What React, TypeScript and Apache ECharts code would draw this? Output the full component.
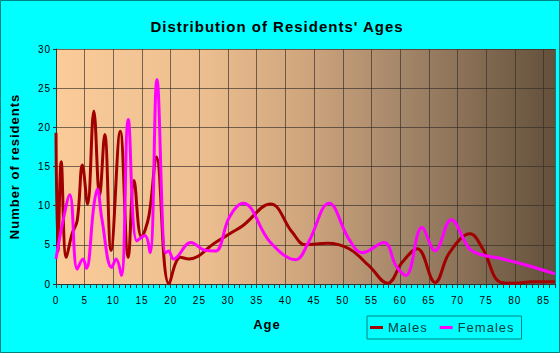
import React, { useEffect, useRef } from "react";
import * as echarts from "echarts";

const titleText = "Distribution of Residents' Ages";
const xAxisTitle = "Age";
const yAxisTitle = "Number of residents";
const seriesNames = ["Males", "Females"];

const males: [number, number][] = [
  [0, 19.3], [0.35, 4.2], [0.9, 15.6], [1.8, 3.4], [2.8, 6.4], [3.7, 8.1],
  [4.6, 15.2], [5.5, 10.2], [6.6, 22.1], [7.6, 11.3], [8.5, 19.1], [9.6, 4.3],
  [11.2, 19.5], [12.6, 3.4], [13.6, 13.2], [14.9, 6.0], [16.2, 8.7], [17.5, 16.2],
  [19.7, 0], [21.7, 3.4], [23.2, 3.2], [27.8, 5.3], [30.7, 6.6], [32.5, 7.4],
  [37.4, 10.2], [41.2, 6.6], [43.5, 5.0], [47.3, 5.2], [51.1, 4.5], [54.6, 2.3],
  [57.8, 0.1], [60.4, 2.8], [63, 4.5], [66.1, 0.2], [68.6, 4.0], [72.2, 6.4],
  [74.4, 4.5], [77.6, 0.2], [80, 0.1], [83, 0.3], [87, 0.3],
];

const females: [number, number][] = [
  [0, 3.2], [1.2, 8.0], [2.4, 11.4], [3.7, 1.9], [4.7, 3.2], [5.3, 2.0],
  [6.6, 10], [7.2, 12.1], [8, 8.3], [9.7, 2.1], [10.5, 3.2], [11.4, 1.1],
  [12.6, 21], [14.1, 5.5], [15.5, 6.2], [16.4, 4.0], [17.6, 26.1], [19.1, 4.0],
  [19.6, 4.2], [20.5, 3.2], [23.5, 5.3], [26, 4.3], [27.8, 4.2], [30.2, 8.5],
  [32.6, 10.3], [37.4, 5.3], [41.8, 3.1], [44, 5.3], [47.6, 10.3], [51.1, 5.7],
  [53.4, 4.0], [57.2, 5.3], [59.3, 2.3], [61, 1.1], [63.8, 7.2], [66.1, 4.25],
  [68.9, 8.2], [72.1, 4.5], [74.4, 3.7], [77.9, 3.2], [82.5, 2.3], [87, 1.3],
];

const xMin = 0;
const xMax = 87;
const xStep = 5;
const yMin = 0;
const yMax = 30;
const yStep = 5;

const FONT = "'Liberation Sans', Arial, sans-serif";

export default function App() {
  const ref = useRef<HTMLDivElement>(null);

  useEffect(() => {
    if (!ref.current) return;
    const chart = echarts.init(ref.current, undefined, { renderer: "svg" });
    const bg = new echarts.graphic.LinearGradient(0, 0, 1, 0, [
      { offset: 0, color: "#FBCB99" },
      { offset: 0.29, color: "#EDBF90" },
      { offset: 0.5, color: "#CFA57D" },
      { offset: 0.69, color: "#A5876A" },
      { offset: 1, color: "#63503B" },
    ]);
    chart.setOption({
      animation: false,
      backgroundColor: "#00FFFF",
      textStyle: { fontFamily: FONT },
      title: {
        text: titleText,
        left: 272,
        top: 14,
        textAlign: "center",
        textStyle: { fontSize: 15, fontWeight: "bold", color: "#000", fontFamily: FONT },
      },
      graphic: [
        {
          type: "rect",
          shape: { x: 0.5, y: 0.5, width: 559, height: 352 },
          style: { fill: "none", stroke: "#008080", lineWidth: 1 },
          silent: true,
        },
      ],
      legend: {
        left: 367,
        top: 316,
        padding: [5, 14, 5, 3],
        itemGap: 17,
        itemWidth: 13,
        itemHeight: 3,
        icon: "rect",
        borderColor: "#008080",
        borderWidth: 1,
        textStyle: { color: "#004040", fontSize: 13, fontFamily: FONT },
        data: seriesNames,
      },
      grid: {
        left: 54,
        top: 49,
        right: 5,
        bottom: 69,
        show: true,
        backgroundColor: bg,
        borderWidth: 0,
      },
      xAxis: [
        {
          type: "value",
          min: xMin,
          max: xMax,
          interval: xStep,
          name: xAxisTitle,
          nameLocation: "middle",
          nameGap: 34,
          nameTextStyle: {
            fontSize: 13,
            fontWeight: "bold",
            color: "#000",
            fontFamily: FONT,
            padding: [0, 77, 0, 0],
          },
          axisLine: { show: true, lineStyle: { color: "#333", width: 1 } },
          axisTick: { show: false },
          axisLabel: {
            showMaxLabel: false,
            margin: 11,
            fontSize: 10,
            color: "#000",
            fontFamily: FONT,
          },
          splitLine: { show: true, lineStyle: { color: "rgba(50,45,40,0.65)", width: 1 } },
        },
        {
          type: "value",
          min: xMin,
          max: xMax,
          interval: 1,
          position: "bottom",
          axisLine: { show: false },
          axisTick: { show: true, length: 4, lineStyle: { color: "#333" } },
          axisLabel: { show: false },
          splitLine: { show: false },
        },
      ],
      yAxis: {
        type: "value",
        min: yMin,
        max: yMax,
        interval: yStep,
        name: yAxisTitle,
        nameLocation: "middle",
        nameGap: 35,
        nameTextStyle: { fontSize: 13, fontWeight: "bold", color: "#000", fontFamily: FONT },
        axisLine: { show: true, lineStyle: { color: "#333", width: 1 } },
        axisTick: { show: true, length: 3, lineStyle: { color: "#333" } },
        axisLabel: { margin: 5, fontSize: 10, color: "#000", fontFamily: FONT },
        splitLine: { show: true, lineStyle: { color: "rgba(50,45,40,0.65)", width: 1 } },
      },
      series: [
        {
          name: seriesNames[0],
          type: "line",
          data: males,
          smooth: 0.4,
          symbol: "none",
          color: "#A00000",
          lineStyle: { color: "#A00000", width: 3 },
        },
        {
          name: seriesNames[1],
          type: "line",
          data: females,
          smooth: 0.4,
          symbol: "none",
          color: "#FF00FF",
          lineStyle: { color: "#FF00FF", width: 3 },
        },
      ],
    });
    return () => chart.dispose();
  }, []);

  return (
    <>
      <style>{`#chart svg text { letter-spacing: 1px; }`}</style>
      <div
        id="chart"
        ref={ref}
        style={{ position: "absolute", left: 0, top: 0, width: 560, height: 353 }}
      />
    </>
  );
}
